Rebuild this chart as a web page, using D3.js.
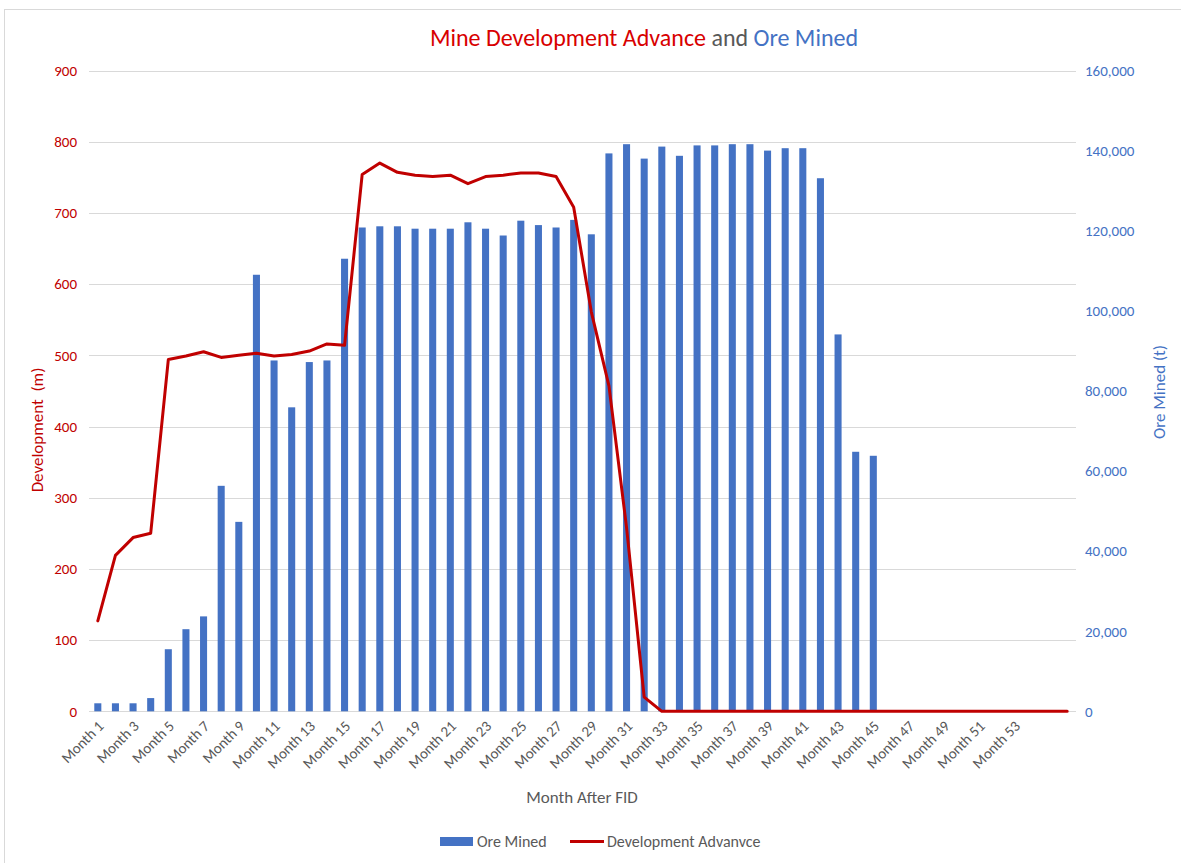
<!DOCTYPE html>
<html>
<head>
<meta charset="utf-8">
<script src="https://cdn.jsdelivr.net/npm/d3@7"></script>
<style>
  html, body { margin: 0; padding: 0; background: #fff; }
  svg { display: block; font-family: Calibri, Carlito, Lato, "Noto Sans", sans-serif; }
</style>
</head>
<body>
<svg id="chart" width="1181" height="863"></svg>
<script>
// Month categories (56 months after FID)
const months = d3.range(1, 57).map(i => "Month " + i);

// Ore mined per month (t), right axis
const oreMined = [
  2000, 2000, 2000, 3300, 15500, 20500, 23700, 56300, 47300, 109000,
  87600, 75900, 87200, 87600, 113000, 120800, 121100, 121100, 120500, 120500,
  120500, 122100, 120500, 118800, 122500, 121400, 120800, 122700, 119100, 139300,
  141600, 138000, 141000, 138700, 141300, 141300, 141600, 141600, 140000, 140600,
  140600, 133100, 94100, 64800, 63800, 0, 0, 0, 0, 0,
  0, 0, 0, 0, 0, 0
];

// Development advance per month (m), left axis
const development = [
  127, 219, 244, 250, 494, 499, 505, 497, 500, 503,
  499, 501, 506, 516, 514, 754, 770, 757, 753, 751,
  753, 741, 751, 753, 756, 756, 751, 708, 561, 457,
  258, 20, 0, 0, 0, 0, 0, 0, 0, 0,
  0, 0, 0, 0, 0, 0, 0, 0, 0, 0,
  0, 0, 0, 0, 0, 0
];

// Axis tick values and labels
const leftTicks = [0, 100, 200, 300, 400, 500, 600, 700, 800, 900];
const rightTicks = [0, 20000, 40000, 60000, 80000, 100000, 120000, 140000, 160000];
const xTickLabels = d3.range(1, 54, 2).map(i => "Month " + i);

const RED = "#C00000";
const TITLE_RED = "#D80000";
const BLUE = "#4472C4";
const GREY = "#595959";
const GRID = "#D9D9D9";
const FONT = "Calibri, Carlito, Lato, sans-serif";

const svg = d3.select("#chart");
const plot = { left: 89, right: 1076, top: 70.5, bottom: 711.3 };

// Chart area border
svg.append("rect")
  .attr("x", 4.5).attr("y", 9.5)
  .attr("width", 1190).attr("height", 870)
  .attr("fill", "#fff").attr("stroke", GRID).attr("stroke-width", 1);

const x = d3.scaleBand()
  .domain(months)
  .range([plot.left, plot.right])
  .paddingInner(0.6)
  .paddingOuter(0.3);

const yL = d3.scaleLinear().domain([0, 900]).range([plot.bottom, plot.top]);
const yR = d3.scaleLinear().domain([0, 160000]).range([plot.bottom, plot.top]);

// Horizontal gridlines
svg.append("g")
  .selectAll("line")
  .data(leftTicks)
  .join("line")
  .attr("x1", plot.left).attr("x2", plot.right)
  .attr("y1", d => Math.round(yL(d)) + 0.5)
  .attr("y2", d => Math.round(yL(d)) + 0.5)
  .attr("stroke", GRID).attr("stroke-width", 1);

// Left axis (Development)
const gL = svg.append("g")
  .attr("transform", `translate(${plot.left},0)`)
  .call(d3.axisLeft(yL).tickValues(leftTicks).tickSize(0).tickPadding(12));
gL.select(".domain").remove();
gL.selectAll("text")
  .attr("fill", RED)
  .style("font-size", "15px")
  .style("font-family", FONT);

// Right axis (Ore Mined)
const gR = svg.append("g")
  .attr("transform", `translate(${plot.right},0)`)
  .call(d3.axisRight(yR).tickValues(rightTicks).tickFormat(d3.format(",")).tickSize(0).tickPadding(9));
gR.select(".domain").remove();
gR.selectAll("text")
  .attr("fill", BLUE)
  .style("font-size", "15px")
  .style("font-family", FONT);

// Bars
svg.append("g")
  .selectAll("rect")
  .data(months.map((m, i) => ({ m, v: oreMined[i] })))
  .join("rect")
  .attr("x", d => x(d.m))
  .attr("width", x.bandwidth())
  .attr("y", d => yR(d.v))
  .attr("height", d => yR(0) - yR(d.v))
  .attr("fill", BLUE);

// Development line
const line = d3.line()
  .x((d, i) => x(months[i]) + x.bandwidth() / 2)
  .y(d => yL(d));

svg.append("path")
  .datum(development)
  .attr("d", line)
  .attr("fill", "none")
  .attr("stroke", RED)
  .attr("stroke-width", 3)
  .attr("stroke-linejoin", "round")
  .attr("stroke-linecap", "round");

// X axis labels
const gX = svg.append("g")
  .attr("transform", `translate(0,${plot.bottom})`)
  .call(d3.axisBottom(x).tickValues(xTickLabels).tickSize(0).tickPadding(0));
gX.select(".domain").remove();
gX.selectAll(".tick text")
  .attr("fill", GREY)
  .style("font-size", "15px")
  .style("font-family", FONT)
  .attr("text-anchor", "end")
  .attr("dy", "0.35em")
  .attr("transform", "translate(3,12) rotate(-45)");

// Axis titles
svg.append("text")
  .attr("transform", "translate(43,430) rotate(-90)")
  .attr("text-anchor", "middle")
  .attr("fill", RED)
  .style("font-size", "17px")
  .style("white-space", "pre")
  .text("Development  (m)");

svg.append("text")
  .attr("transform", "translate(1165,392) rotate(-90)")
  .attr("text-anchor", "middle")
  .attr("fill", BLUE)
  .style("font-size", "17px")
  .text("Ore Mined (t)");

svg.append("text")
  .attr("x", 582).attr("y", 803)
  .attr("text-anchor", "middle")
  .attr("fill", GREY)
  .style("font-size", "17px")
  .text("Month After FID");

// Title with coloured parts
const title = svg.append("text")
  .attr("x", 644).attr("y", 46)
  .attr("text-anchor", "middle")
  .style("font-size", "24px");
title.append("tspan").attr("fill", TITLE_RED).text("Mine Development Advance ");
title.append("tspan").attr("fill", GREY).text("and ");
title.append("tspan").attr("fill", BLUE).text("Ore Mined");

// Legend
const legend = svg.append("g");
legend.append("rect")
  .attr("x", 440).attr("y", 837).attr("width", 33).attr("height", 9)
  .attr("fill", BLUE);
legend.append("text")
  .attr("x", 477).attr("y", 847)
  .attr("fill", GREY).style("font-size", "16px")
  .text("Ore Mined");
legend.append("line")
  .attr("x1", 570).attr("x2", 604).attr("y1", 841.5).attr("y2", 841.5)
  .attr("stroke", RED).attr("stroke-width", 3);
legend.append("text")
  .attr("x", 607).attr("y", 847)
  .attr("fill", GREY).style("font-size", "16px")
  .text("Development Advanvce");
</script>
</body>
</html>
